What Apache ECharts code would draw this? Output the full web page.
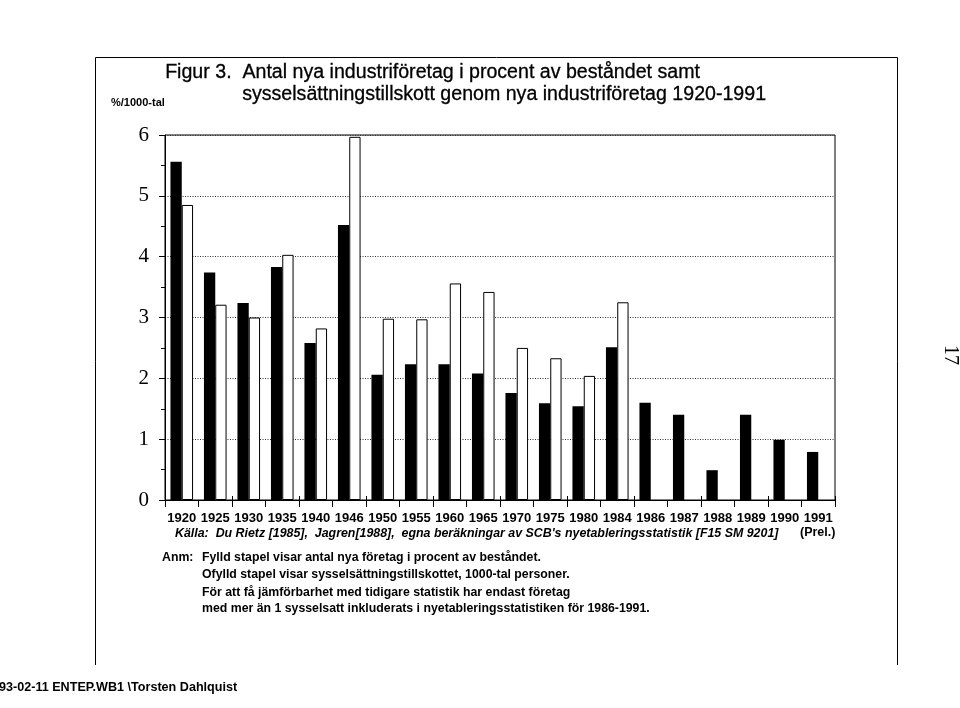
<!DOCTYPE html>
<html>
<head>
<meta charset="utf-8">
<script src="https://cdn.jsdelivr.net/npm/echarts@6/dist/echarts.min.js"></script>
<style>
html,body{margin:0;padding:0;background:#fff;}
#chart{width:960px;height:708px;}
</style>
</head>
<body>
<div id="chart"></div>
<script>
// ---- data ----
var categories = ['1920','1925','1930','1935','1940','1946','1950','1955','1960','1965','1970','1975','1980','1984','1986','1987','1988','1989','1990','1991'];
// Fylld stapel: antal nya företag i procent av beståndet
var filledValues = [5.56, 3.74, 3.24, 3.83, 2.58, 4.52, 2.06, 2.23, 2.23, 2.08, 1.76, 1.59, 1.54, 2.51, 1.60, 1.40, 0.49, 1.40, 0.99, 0.79];
// Ofylld stapel: sysselsättningstillskottet, 1000-tal personer
var openValues = [4.85, 3.21, 3.00, 4.03, 2.82, 5.97, 2.98, 2.97, 3.56, 3.42, 2.50, 2.33, 2.04, 3.25, null, null, null, null, null, null];
var yTicks = [0, 1, 2, 3, 4, 5, 6];

var titleLine1 = 'Figur 3.  Antal nya industriföretag i procent av beståndet samt';
var titleLine2 = 'sysselsättningstillskott genom nya industriföretag 1920-1991';
var unitLabel = '%/1000-tal';
var sourceText = 'Källa:  Du Rietz [1985],  Jagren[1988],  egna beräkningar av SCB\'s nyetableringsstatistik [F15 SM 9201]';
var prelText = '(Prel.)';
var noteLabel = 'Anm:';
var noteLines = [
  'Fylld stapel visar antal nya företag i procent av beståndet.',
  'Ofylld stapel visar sysselsättningstillskottet, 1000-tal personer.',
  'För att få jämförbarhet med tidigare statistik har endast företag',
  'med mer än 1 sysselsatt inkluderats i nyetableringsstatistiken för 1986-1991.'
];
var footerText = '93-02-11 ENTEP.WB1 \\Torsten Dahlquist';
var pageNumber = '17';

var sans = '"Liberation Sans", Arial, sans-serif';
var serif = '"Liberation Serif", "Times New Roman", serif';

var chart = echarts.init(document.getElementById('chart'), null, {renderer: 'canvas'});

var graphics = [
  // frame
  {type: 'line', shape: {x1: 95.5, y1: 57.5, x2: 897.5, y2: 57.5}, style: {stroke: '#000', lineWidth: 1}},
  {type: 'line', shape: {x1: 95.5, y1: 57.5, x2: 95.5, y2: 665}, style: {stroke: '#000', lineWidth: 1}},
  {type: 'line', shape: {x1: 897.5, y1: 57.5, x2: 897.5, y2: 665}, style: {stroke: '#000', lineWidth: 1}},
  {type: 'text', left: 165, top: 62, style: {text: titleLine1, font: '19.6px ' + sans, fill: '#000', stroke: '#000', lineWidth: 0.3}},
  {type: 'text', left: 242, top: 84, style: {text: titleLine2, font: '19.6px ' + sans, fill: '#000', stroke: '#000', lineWidth: 0.3}},
  {type: 'text', left: 111, top: 97, style: {text: unitLabel, font: 'bold 11px ' + sans, fill: '#000'}},
  {type: 'text', left: 175, top: 528, style: {text: sourceText, font: 'italic bold 12.4px ' + sans, fill: '#000'}},
  {type: 'text', left: 800, top: 526, style: {text: prelText, font: 'bold 12.5px ' + sans, fill: '#000'}},
  {type: 'text', left: 162, top: 552, style: {text: noteLabel, font: 'bold 12.3px ' + sans, fill: '#000'}},
  {type: 'text', left: -1, top: 681, style: {text: footerText, font: 'bold 12.6px ' + sans, fill: '#000'}},
  {type: 'text', x: 950, y: 355, rotation: -Math.PI / 2, style: {text: pageNumber, font: '20px ' + serif, fill: '#000', textAlign: 'center', textVerticalAlign: 'middle'}}
];
var noteTops = [552, 569, 587, 603];
noteLines.forEach(function (t, i) {
  graphics.push({type: 'text', left: 202, top: noteTops[i], style: {text: t, font: 'bold 12.3px ' + sans, fill: '#000'}});
});

var option = {
  backgroundColor: '#fff',
  animation: false,
  grid: {left: 165, right: 125, top: 135, bottom: 208, show: true, borderColor: '#000', borderWidth: 1, backgroundColor: 'transparent'},
  xAxis: [{
    type: 'category',
    data: categories,
    position: 'bottom',
    boundaryGap: true,
    axisLine: {lineStyle: {color: '#000', width: 1}},
    axisTick: {show: true, alignWithLabel: false, length: 7, lineStyle: {color: '#000'}},
    axisLabel: {color: '#000', fontFamily: sans, fontWeight: 'bold', fontSize: 13, margin: 12, interval: 0},
    splitLine: {show: false}
  }, {
    type: 'category',
    data: categories,
    position: 'bottom',
    boundaryGap: true,
    axisLine: {show: false},
    axisTick: {show: true, inside: true, length: 4, lineStyle: {color: '#000'}},
    axisLabel: {show: false},
    splitLine: {show: false}
  }],
  yAxis: {
    type: 'value',
    min: yTicks[0],
    max: yTicks[yTicks.length - 1],
    interval: 1,
    axisLine: {show: true, lineStyle: {color: '#000', width: 1}},
    axisTick: {show: true, length: 6, lineStyle: {color: '#000'}},
    minorTick: {show: true, splitNumber: 2, length: 4, lineStyle: {color: '#000'}},
    axisLabel: {color: '#000', fontFamily: serif, fontSize: 21, margin: 16},
    splitLine: {show: true, lineStyle: {color: '#333', width: 1, type: [1, 1.5]}}
  },
  series: [{
    name: 'Fylld',
    type: 'bar',
    data: filledValues,
    barWidth: 11.3,
    barGap: '0%',
    itemStyle: {color: '#000', borderColor: '#000', borderWidth: 0}
  }, {
    name: 'Ofylld',
    type: 'bar',
    data: openValues,
    barWidth: 11.3,
    barGap: '0%',
    itemStyle: {color: '#fff', borderColor: '#000', borderWidth: 1}
  }],
  graphic: graphics
};
chart.setOption(option);
</script>
</body>
</html>
